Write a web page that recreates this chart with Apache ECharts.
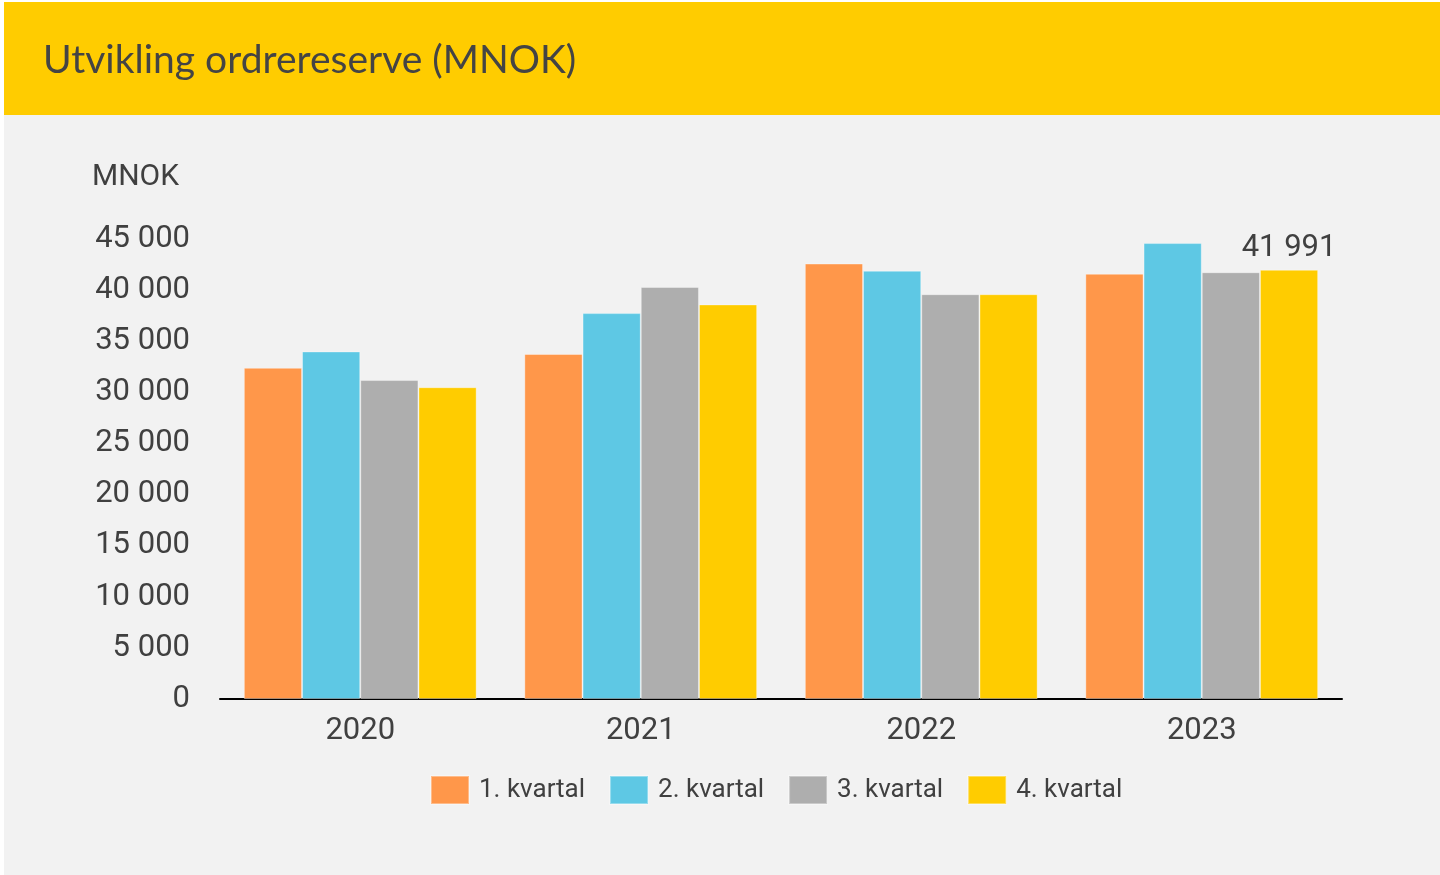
<!DOCTYPE html>
<html>
<head>
<meta charset="utf-8">
<script src="https://cdn.jsdelivr.net/npm/echarts@6/dist/echarts.min.js"></script>
<style>
  html, body { margin: 0; padding: 0; background: #ffffff; }
  #chart { position: absolute; left: 4px; top: 2px; width: 1436px; height: 873px; background: #f2f2f2; }
</style>
</head>
<body>
<div id="chart"></div>
<script>
const years = ["2020", "2021", "2022", "2023"];
const quarterNames = ["1. kvartal", "2. kvartal", "3. kvartal", "4. kvartal"];
const q1 = [32400, 33750, 42600, 41600];
const q2 = [34000, 37750, 41900, 44600];
const q3 = [31200, 40300, 39600, 41750];
const q4 = [30500, 38600, 39600, 41991];
const colors = ["#ff974a", "#5ec8e4", "#aeaeae", "#ffcc00"];

const fmt = (v) => String(v).replace(/\B(?=(\d{3})+(?!\d))/g, " ");
const textColor = "#404040";
const font = "Roboto";

const chart = echarts.init(document.getElementById("chart"));

const mkSeries = (name, data, i) => ({
  name: name,
  type: "bar",
  data: data.slice(),
  barGap: "0%",
  barCategoryGap: "17%",
  itemStyle: { color: colors[i], borderColor: "rgba(255,255,255,0.35)", borderWidth: 1 },
  emphasis: { disabled: true },
});

const series = [q1, q2, q3, q4].map((d, i) => mkSeries(quarterNames[i], d, i));
// label only on the latest value
const last = series[3].data.length - 1;
series[3].data[last] = {
  value: q4[last],
  label: {
    show: true,
    position: "top",
    distance: 6,
    formatter: (p) => fmt(p.value),
    color: textColor,
    fontFamily: font,
    fontSize: 31,
  },
};

chart.setOption({
  animation: false,
  graphic: [
    {
      type: "rect",
      left: 0,
      top: 0,
      shape: { width: 1436, height: 113 },
      style: { fill: "#ffcc00" },
      silent: true,
    },
    {
      type: "text",
      left: 39,
      top: 39,
      style: {
        text: "Utvikling ordrereserve (MNOK)",
        fill: "#444444",
        font: "39px Lato",
      },
    },
    {
      type: "text",
      left: 88,
      top: 160,
      style: {
        text: "MNOK",
        fill: textColor,
        font: "30px Roboto",
      },
    },
  ],
  grid: {
    left: 216,
    right: 98,
    top: 237,
    bottom: 176,
  },
  legend: {
    data: quarterNames,
    bottom: 65,
    left: 421,
    itemWidth: 38,
    itemHeight: 28,
    itemGap: 24,
    icon: "rect",
    textStyle: {
      color: textColor,
      fontFamily: font,
      fontSize: 26,
      padding: [0, 0, 0, 5],
    },
  },
  xAxis: {
    type: "category",
    data: years,
    axisLine: { lineStyle: { color: "#000000", width: 2 } },
    axisTick: { show: false },
    axisLabel: {
      color: textColor,
      fontFamily: font,
      fontSize: 31,
      margin: 17,
    },
  },
  yAxis: {
    type: "value",
    min: 0,
    max: 45000,
    interval: 5000,
    axisLine: { show: false },
    axisTick: { show: false },
    splitLine: { show: false },
    axisLabel: {
      color: textColor,
      fontFamily: font,
      fontSize: 31,
      margin: 30,
      formatter: fmt,
    },
  },
  series: series,
});
</script>
</body>
</html>
